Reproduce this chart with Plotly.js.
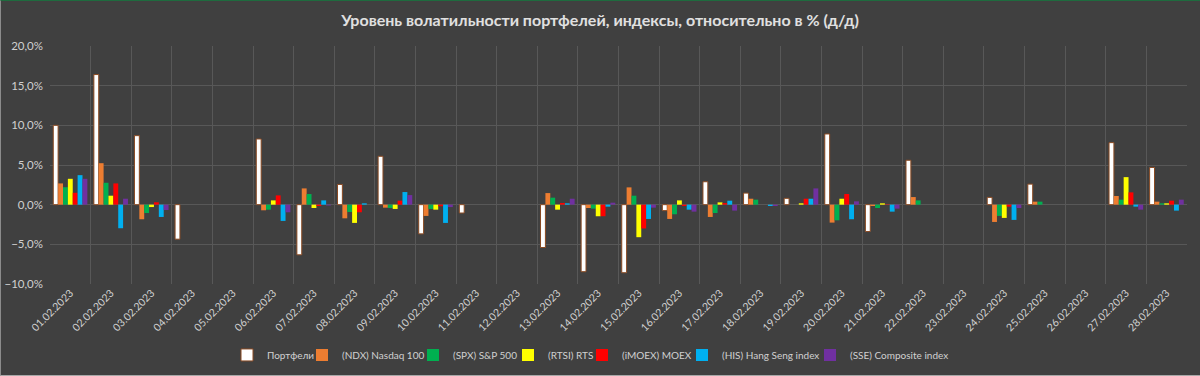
<!DOCTYPE html>
<html><head><meta charset="utf-8">
<script src="https://cdn.plot.ly/plotly-3.0.1.min.js"></script>
<style>
html,body{margin:0;padding:0;background:#404040;}
#wrap{position:relative;width:1200px;height:376px;}
#chart{width:1200px;height:376px;}
#wrap::after{content:'';position:absolute;left:0;top:0;right:0;bottom:0;border-top:1px solid #1e6b3e;border-left:1px solid #8c8c8c;border-bottom:1px solid #a8a8a8;pointer-events:none;}
</style>
</head><body><div id="wrap"><div id="chart"></div></div>
<script>
const dates = ["01.02.2023","02.02.2023","03.02.2023","04.02.2023","05.02.2023","06.02.2023","07.02.2023","08.02.2023","09.02.2023","10.02.2023","11.02.2023","12.02.2023","13.02.2023","14.02.2023","15.02.2023","16.02.2023","17.02.2023","18.02.2023","19.02.2023","20.02.2023","21.02.2023","22.02.2023","23.02.2023","24.02.2023","25.02.2023","26.02.2023","27.02.2023","28.02.2023"];
const portfolios = [10.0,16.4,8.7,-4.35,null,8.28,-6.32,2.55,6.1,-3.68,-1.05,null,-5.4,-8.45,-8.58,-0.75,2.89,1.46,0.8,8.91,-3.39,5.6,null,0.92,2.59,null,7.82,4.69];
const ndx = [2.68,5.23,-1.84,null,null,-0.71,2.05,-1.72,-0.38,-1.42,null,null,1.46,-0.42,2.18,-1.8,-1.55,0.75,null,-2.26,-0.17,0.96,null,-2.18,0.38,null,1.09,0.38];
const spx = [2.2,2.76,-1.05,null,null,-0.63,1.34,-0.92,-0.42,-0.54,null,null,0.88,-0.5,1.13,-1.21,-1.05,0.63,null,-1.97,-0.42,0.54,null,-1.42,0.38,null,0.63,0.17];
const rtsi = [3.26,1.13,-0.3,null,null,0.54,-0.42,-2.3,-0.54,-0.63,null,null,-0.63,-1.46,-4.1,0.54,0.29,null,0.17,0.75,0.17,null,null,-1.67,null,null,3.47,0.17];
const moex = [1.5,2.68,0.3,null,null,1.17,-0.17,-0.96,0.5,-0.2,null,null,0.21,-1.46,-3.0,-0.17,0.2,null,0.75,1.34,0.05,null,null,-0.25,null,null,1.55,0.5];
const his = [3.72,-2.97,-1.55,null,null,-2.05,0.54,0.17,1.59,-2.3,null,null,0.17,-0.25,-1.8,-0.63,0.5,-0.17,0.75,-1.84,-0.88,null,null,-1.92,null,null,-0.25,-0.75];
const sse = [3.26,0.75,-0.67,null,null,-0.96,-0.1,null,1.21,-0.3,null,null,0.75,0.25,-0.38,-0.88,-0.75,-0.17,2.05,0.42,-0.5,null,null,-0.42,null,null,-0.63,0.63];

const names = ["Портфели","(NDX) Nasdaq 100","(SPX) S&P 500","(RTSI) RTS","(iMOEX) MOEX","(HIS) Hang Seng index","(SSE) Composite index"];
const colors = ["#ffffff","#ed7d31","#00b050","#ffff00","#ff0000","#00b0f0","#7030a0"];
const series = [portfolios, ndx, spx, rtsi, moex, his, sse];
// left edge (px) where each legend entry's text begins in the reference
const legendTextX = [265, 340, 451, 546, 620, 720, 848];

const FONT = 'Lato, "Open Sans", sans-serif';
// reversed so that left entries are drawn last (on top)
const legendKey = i => { const k = series.length - i; return k === 1 ? 'legend' : 'legend' + k; };

const traces = series.map((s,i)=>({
  type:'bar', name:names[i], x:dates, y:s, legend:legendKey(i),
  marker:{color:colors[i], line:{color: i===0 ? '#8a4a22' : 'rgba(0,0,0,0)', width: i===0 ? 1 : 0}},
  hovertemplate:'%{y:.2f}%<extra>'+names[i]+'</extra>'
}));

const layout = {
  width:1200, height:376,
  paper_bgcolor:'#404040', plot_bgcolor:'#404040',
  margin:{l:50, r:13, t:46, b:92, autoexpand:false},
  separators:', ',
  title:{text:'Уровень волатильности портфелей, индексы, относительно в % (д/д)', x:0.5, xanchor:'center', yref:'container', y:0.945, yanchor:'middle',
    font:{family:FONT, size:16, color:'#e0e0e0', weight:'bold'}},
  barmode:'group', bargap:0.16, bargroupgap:0,
  xaxis:{type:'category', tickangle:-45, tickson:'boundaries', showgrid:true, gridcolor:'#585858', gridwidth:1,
    ticks:'', showline:false, zeroline:false, automargin:false,
    tickfont:{family:FONT, size:10.5, color:'#d0d0d0'}},
  yaxis:{range:[-10,20], dtick:5, tickformat:'.1f', ticksuffix:'%', showgrid:true, gridcolor:'#585858', gridwidth:1,
    zeroline:true, zerolinecolor:'#585858', zerolinewidth:1, showline:false, automargin:false, ticklabelstandoff:6,
    tickfont:{family:FONT, size:11.5, color:'#d0d0d0'}},
  showlegend:true
};
names.forEach((n,i)=>{
  layout[legendKey(i)] = {orientation:'h', xref:'container', x:(legendTextX[i]-38)/1200, xanchor:'left',
    yref:'container', y:0.056, yanchor:'middle', bgcolor:'rgba(0,0,0,0)', borderwidth:0, itemwidth:30,
    font:{family:FONT, size:10, color:'#d0d0d0'}};
});
Plotly.newPlot('chart', traces, layout, {displayModeBar:false, staticPlot:true});
</script></body></html>
